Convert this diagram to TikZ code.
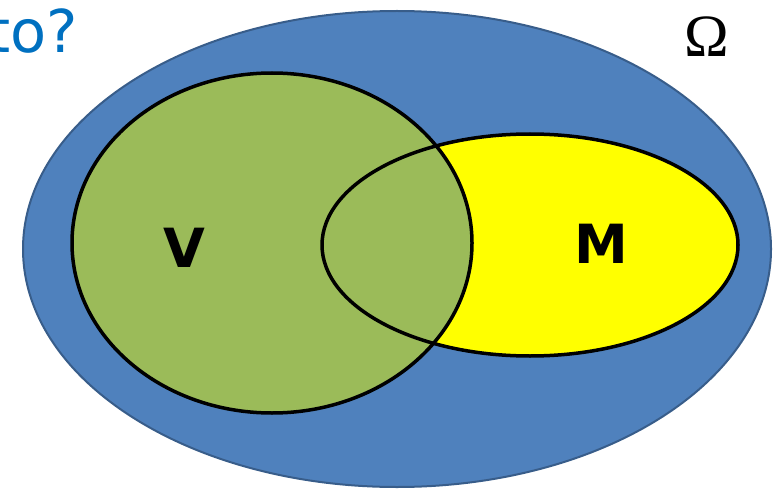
\documentclass[tikz,border=0pt]{standalone}
\usepackage{fontspec}
\setmainfont{DejaVu Sans}
\newfontfamily\omegafont{Liberation Serif}
\definecolor{omegablue}{HTML}{4F81BD}
\definecolor{omegaedge}{HTML}{385D8A}
\definecolor{vgreen}{HTML}{9BBB59}
\definecolor{myellow}{HTML}{FFFF00}
\definecolor{qblue}{HTML}{0070C0}
\tikzset{
  setline/.style={draw=black, line width=3.5pt},
  setlabel/.style={font=\fontsize{54}{60}\selectfont\bfseries, text=black, inner sep=0pt}
}
\begin{document}
\begin{tikzpicture}[x=1pt,y=-1pt]
\useasboundingbox (0,0) rectangle (778,489);
\clip (0,0) rectangle (778,489);
% Omega
\fill[omegablue, draw=omegaedge, line width=2pt] (397,249) ellipse [x radius=374, y radius=238];
% M fill, V fill
\fill[myellow] (530,245) ellipse [x radius=208, y radius=111];
\fill[vgreen] (272,243) ellipse [x radius=200, y radius=170];
% outlines
\draw[setline] (530,245) ellipse [x radius=208, y radius=111];
\draw[setline] (272,243) ellipse [x radius=200, y radius=170];
% labels
\node[setlabel] (v) at (184,248) {V};
\node[setlabel] (m) at (601,244) {M};
\node[font=\omegafont\fontsize{60}{64}\selectfont, inner sep=0pt, anchor=base] (omega) at (707,57) {Ω};
\node[font=\fontsize{59}{64}\selectfont, text=qblue, inner sep=0pt, anchor=base east] (q) at (78,53) {to?};
\end{tikzpicture}
\end{document}
